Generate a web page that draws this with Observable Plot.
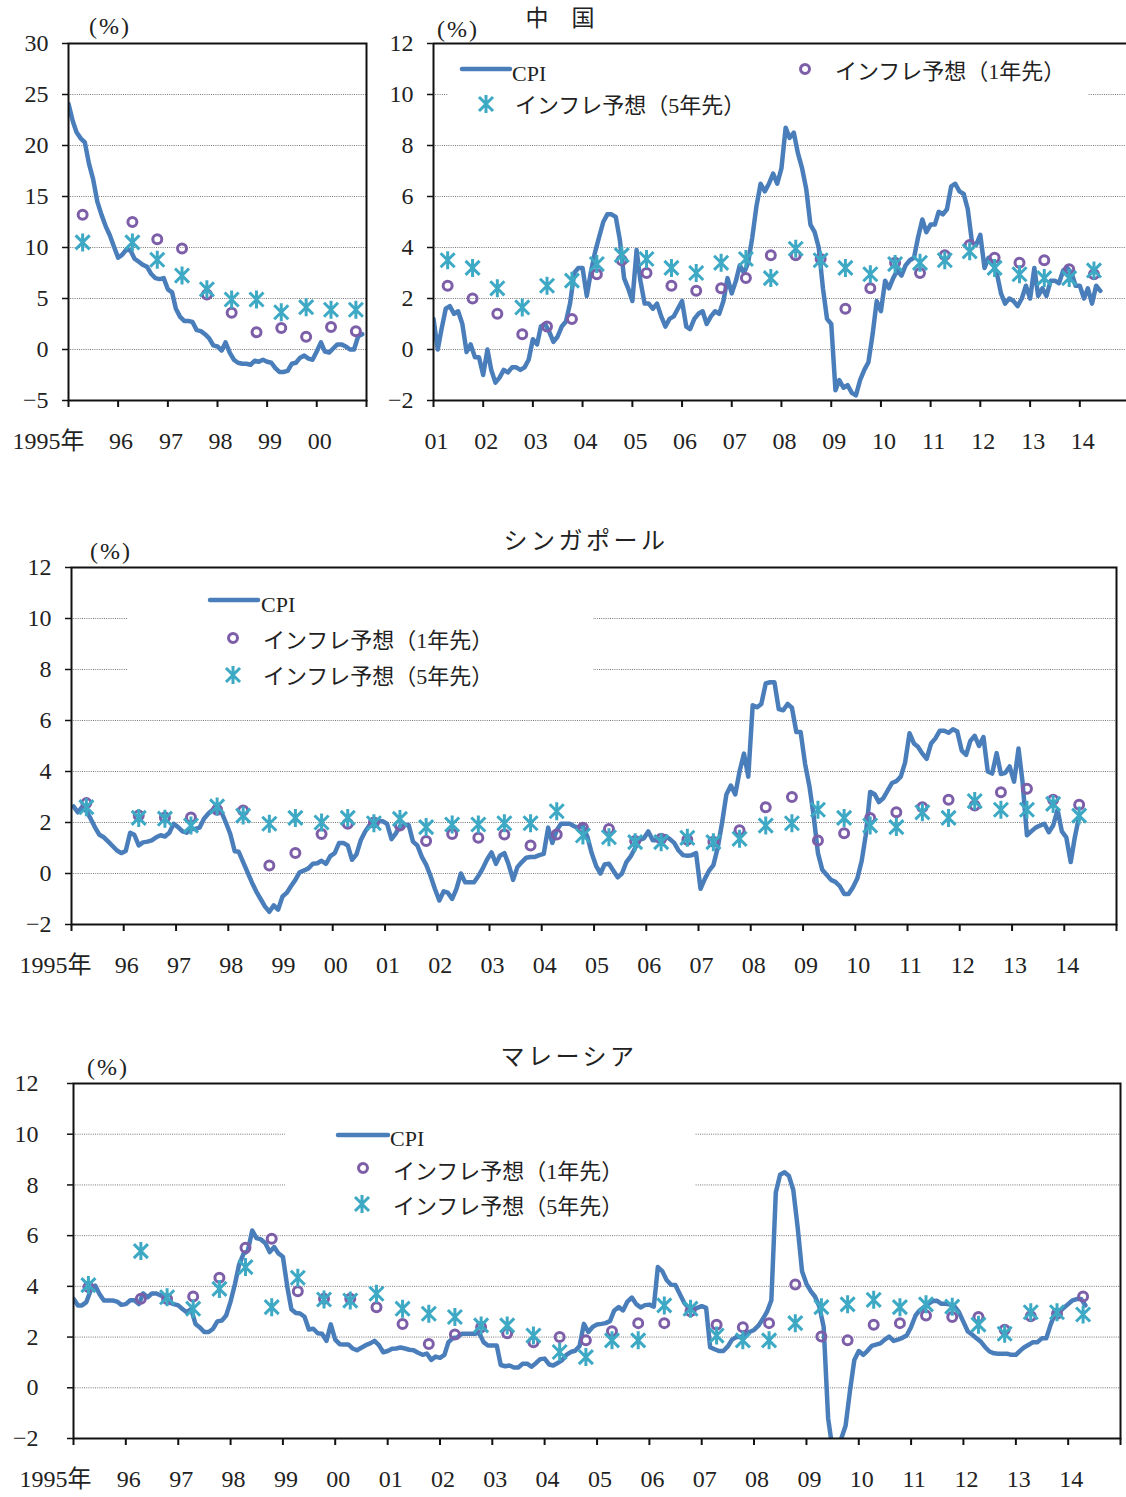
<!DOCTYPE html>
<html><head><meta charset="utf-8">
<script src="https://cdn.jsdelivr.net/npm/d3@7"></script>
<script src="https://cdn.jsdelivr.net/npm/@observablehq/plot@0.6"></script>
<style>
body{margin:0;background:#fff;}
#c{position:relative;width:1126px;height:1497px;overflow:hidden;font-family:"Liberation Serif","Noto Sans CJK JP",serif;color:#222;background:#fff;}
#c > *{position:absolute;}
.t{white-space:nowrap;line-height:1;}
</style></head><body><div id="c"></div>
<script>
// ---------------- DATA ----------------
// Survey months of the expectation series (1-year-ahead / 5-year-ahead)
const surveyDates = ["1995-04","1996-04","1996-10","1997-04","1997-10","1998-04","1998-10","1999-04","1999-10","2000-04","2000-10","2001-04","2001-10","2002-04","2002-10","2003-04","2003-10","2004-04","2004-10","2005-04","2005-10","2006-04","2006-10","2007-04","2007-10","2008-04","2008-10","2009-04","2009-10","2010-04","2010-10","2011-04","2011-10","2012-04","2012-10","2013-04","2013-10","2014-04"];

// China CPI (y/y %), monthly from Jan 1995
const chinaCpi = [
 24.1,22.4,21.3,20.7,20.3,18.2,16.7,14.5,13.2,12.1,11.2,10.1,
 9.0,9.3,9.8,9.7,8.9,8.6,8.3,8.1,7.4,7.0,6.9,7.0,
 5.9,5.6,4.0,3.2,2.8,2.8,2.7,1.9,1.8,1.5,1.1,0.4,
 0.3,-0.1,0.7,-0.3,-1.0,-1.3,-1.4,-1.4,-1.5,-1.1,-1.2,-1.0,
 -1.2,-1.3,-1.8,-2.2,-2.2,-2.1,-1.4,-1.3,-0.8,-0.6,-0.9,-1.0,
 -0.2,0.7,-0.2,-0.3,0.1,0.5,0.5,0.3,0.0,0.0,1.3,1.5,
 1.2,0.0,0.8,1.6,1.7,1.4,1.5,1.0,-0.1,0.2,-0.3,-0.3,
 -1.0,0.0,-0.8,-1.3,-1.1,-0.8,-0.9,-0.7,-0.7,-0.8,-0.7,-0.4,
 0.4,0.2,0.9,1.0,0.7,0.3,0.5,0.9,1.1,1.8,3.0,3.2,
 3.2,2.1,3.0,3.8,4.4,5.0,5.3,5.3,5.2,4.3,2.8,2.4,
 1.9,3.9,2.7,1.8,1.8,1.6,1.8,1.3,0.9,1.2,1.3,1.6,
 1.9,0.9,0.8,1.2,1.4,1.5,1.0,1.3,1.5,1.4,1.9,2.8,
 2.2,2.7,3.3,3.0,3.4,4.4,5.6,6.5,6.2,6.5,6.9,6.5,
 7.1,8.7,8.3,8.5,7.7,7.1,6.3,4.9,4.6,4.0,2.4,1.2,
 1.0,-1.6,-1.2,-1.5,-1.4,-1.7,-1.8,-1.2,-0.8,-0.5,0.6,1.9,
 1.5,2.7,2.4,2.8,3.1,2.9,3.3,3.5,3.6,4.4,5.1,4.6,
 4.9,4.9,5.4,5.3,5.5,6.4,6.5,6.2,6.1,5.5,4.2,4.1,
 4.5,3.2,3.6,3.4,3.0,2.2,1.8,2.0,1.9,1.7,2.0,2.5,
 2.0,3.2,2.1,2.4,2.1,2.7,2.7,2.6,3.1,3.2,3.0,2.5,
 2.5,2.0,2.4,1.8,2.5,2.3
];
const chinaExp1 = [13.2,12.5,10.8,9.9,5.4,3.6,1.7,2.1,1.25,2.2,1.8,2.5,2.0,1.4,0.6,0.9,1.2,2.95,3.5,3.0,2.5,2.3,2.4,2.8,3.7,3.7,3.55,1.6,2.4,3.4,3.0,3.7,4.1,3.6,3.4,3.5,3.15,2.95];
const chinaExp5 = [10.5,10.5,8.8,7.25,5.9,4.9,4.9,3.65,4.15,3.9,3.9,3.5,3.2,2.4,1.65,2.5,2.7,3.35,3.7,3.55,3.2,3.0,3.4,3.55,2.8,3.95,3.5,3.2,2.95,3.35,3.4,3.5,3.85,3.2,2.95,2.8,2.8,3.1];

// Singapore CPI (y/y %), monthly from Jan 1995
const singaporeCpi = [
 2.63,2.4,2.6,2.45,2.15,1.8,1.52,1.42,1.25,1.08,0.9,0.8,
 0.88,1.6,1.52,1.1,1.22,1.25,1.3,1.42,1.5,1.45,1.6,1.95,
 1.82,1.65,1.6,1.75,1.75,1.8,2.15,2.35,2.5,2.45,2.4,2.0,
 1.55,0.87,0.85,0.45,0.05,-0.35,-0.7,-1.0,-1.3,-1.5,-1.25,-1.42,
 -0.9,-0.75,-0.5,-0.25,0.05,0.12,0.2,0.38,0.4,0.5,0.38,0.68,
 0.8,1.2,1.2,1.1,0.54,0.75,1.3,1.65,1.9,2.0,2.05,2.05,
 1.95,1.35,1.55,1.85,1.9,1.9,1.25,1.1,0.65,0.35,-0.1,-0.6,
 -1.06,-0.7,-0.75,-1.0,-0.6,0.0,-0.34,-0.34,-0.34,-0.1,0.2,0.55,
 0.83,0.38,0.7,0.8,0.35,-0.25,0.25,0.45,0.62,0.65,0.65,0.72,
 0.77,1.8,1.2,1.7,1.95,1.95,1.95,1.85,1.8,1.85,1.45,0.8,
 0.3,0.0,0.35,0.38,0.12,-0.15,0.0,0.45,0.68,1.0,1.32,1.38,
 1.65,1.3,1.3,1.38,1.47,1.35,1.2,0.9,0.72,0.7,0.72,0.8,
 -0.6,-0.2,0.1,0.33,1.0,2.0,3.1,3.45,3.1,4.0,4.7,3.8,
 6.6,6.52,6.65,7.45,7.5,7.5,6.45,6.4,6.65,6.5,5.55,5.55,
 4.3,3.4,2.3,0.8,0.15,-0.05,-0.25,-0.33,-0.5,-0.8,-0.8,-0.55,
 -0.2,0.5,1.5,3.2,3.12,2.8,2.95,3.25,3.55,3.62,3.8,4.35,
 5.5,5.1,4.97,4.7,4.5,5.1,5.3,5.6,5.6,5.52,5.66,5.57,
 4.82,4.65,5.2,5.4,5.0,5.35,4.0,3.92,4.72,3.9,3.95,4.2,
 3.6,4.9,3.6,1.5,1.65,1.8,1.88,1.95,1.62,1.88,2.5,1.65,
 1.42,0.45,1.4,2.25
];
const singaporeExp1 = [2.76,2.27,2.2,2.2,2.5,2.47,0.31,0.8,1.55,1.95,2.0,1.88,1.27,1.55,1.4,1.53,1.1,1.53,1.79,1.75,1.27,1.36,1.32,1.25,1.7,2.6,3.0,1.29,1.58,2.18,2.4,2.6,2.89,2.67,3.19,3.32,2.89,2.7];
const singaporeExp5 = [2.6,2.18,2.15,1.88,2.63,2.27,1.95,2.18,2.0,2.18,1.97,2.14,1.82,1.92,1.92,1.97,1.97,2.44,1.49,1.42,1.23,1.23,1.4,1.23,1.36,1.88,1.97,2.5,2.18,1.88,1.82,2.4,2.18,2.84,2.5,2.5,2.73,2.27];

// Malaysia CPI (y/y %), monthly from Jan 1995
const malaysiaCpi = [
 3.51,3.25,3.25,3.38,3.85,4.03,3.7,3.44,3.44,3.44,3.4,3.27,
 3.3,3.45,3.45,3.3,3.72,3.57,3.72,3.72,3.64,3.6,3.36,3.3,
 3.25,3.1,2.98,3.1,2.52,2.38,2.2,2.2,2.33,2.62,2.65,2.85,
 3.4,4.1,4.85,5.28,5.4,6.2,5.9,5.85,5.7,5.35,5.55,5.3,
 5.17,3.97,3.1,2.95,2.93,2.8,2.3,2.33,2.15,2.13,1.85,2.5,
 1.9,1.72,1.71,1.71,1.55,1.48,1.58,1.68,1.75,1.85,1.68,1.4,
 1.45,1.54,1.55,1.59,1.55,1.5,1.48,1.38,1.3,1.35,1.1,1.23,
 1.18,1.3,1.8,1.96,1.98,2.13,2.13,2.13,2.13,2.17,1.8,1.67,
 1.67,1.67,0.9,0.85,0.88,0.8,0.8,0.95,0.95,0.83,0.97,1.13,
 1.15,0.92,0.88,0.98,1.08,1.3,1.41,1.46,1.65,2.52,2.2,2.4,
 2.5,2.52,2.55,2.63,3.05,3.18,3.05,3.4,3.56,3.3,3.17,3.26,
 3.28,3.2,4.76,4.6,4.25,4.06,4.05,3.7,3.35,3.15,3.08,3.15,
 3.22,3.15,1.6,1.52,1.45,1.45,1.62,1.9,2.0,2.0,2.1,2.2,
 2.28,2.45,2.7,3.0,3.45,7.7,8.4,8.5,8.35,7.8,6.3,4.6,
 4.1,3.8,3.6,3.2,2.4,-1.2,-2.4,-2.4,-2.0,-1.5,-0.1,1.1,
 1.45,1.3,1.45,1.65,1.7,1.75,1.9,2.02,1.85,1.9,1.97,2.06,
 2.4,2.85,3.05,3.18,3.31,3.42,3.43,3.31,3.31,3.28,3.2,2.98,
 2.6,2.22,2.1,1.95,1.82,1.6,1.43,1.36,1.34,1.34,1.34,1.3,
 1.3,1.47,1.6,1.7,1.8,1.8,1.95,1.95,2.5,2.92,3.0,3.15,
 3.3,3.45,3.5,3.5,3.25
];
const malaysiaExp1 = [3.97,3.51,3.5,3.6,4.34,5.52,5.88,3.81,3.51,3.51,3.18,2.52,1.73,2.1,2.39,2.15,1.8,2.0,1.87,2.23,2.55,2.55,3.02,2.49,2.39,2.55,4.07,2.02,1.87,2.49,2.55,2.85,2.79,2.79,2.29,2.82,2.92,3.6];
const malaysiaExp5 = [4.05,5.39,3.57,3.12,3.9,4.76,3.18,4.34,3.48,3.44,3.71,3.12,2.92,2.79,2.46,2.46,2.06,1.41,1.21,1.87,1.87,3.25,3.12,2.06,1.87,1.87,2.55,3.18,3.29,3.47,3.18,3.29,3.2,2.49,2.13,2.98,2.98,2.89];

const titles = {china: "中　国", singapore: "シンガポール", malaysia: "マレーシア"};
const legendLabels = ["CPI", "インフレ予想（1年先）", "インフレ予想（5年先）"];
const yTicksChinaEarly = [30,25,20,15,10,5,0,-5];
const yTicksStd = [12,10,8,6,4,2,0,-2];

// ---------------- HELPERS ----------------
const COL_CPI = "#4a7ebb", COL_E1 = "#7d5ea8", COL_E5 = "#3da9c4";
const FONT = '"Liberation Serif","Noto Sans CJK JP",serif';
const monthly = (vals, day) => vals.map((v, i) => ({date: new Date(Date.UTC(1995, i, day)), value: v}));
const survey = vals => vals.map((v, i) => ({date: new Date(Date.UTC(+surveyDates[i].slice(0,4), +surveyDates[i].slice(5,7)-1, 15)), value: v}));
const yearLabel = y => y === 1995 ? "1995年" : String(y % 100).padStart(2, "0");
const fmt = v => v < 0 ? "\u2212" + (-v) : String(v);
const U = (y) => new Date(Date.UTC(y, 0, 1));
const asterisk = {draw(ctx, size) {
  const r = Math.sqrt(size / Math.PI), d = r * 0.78;
  ctx.moveTo(0, -r); ctx.lineTo(0, r);
  ctx.moveTo(-d, -d); ctx.lineTo(d, d);
  ctx.moveTo(-d, d); ctx.lineTo(d, -d);
}};
const c = document.getElementById("c");

function panel(o) {
  const labs = o.labelYears.map(y => ({date: U(y), label: yearLabel(y)}));
  const frameMarks = o.openRight
    ? [Plot.ruleY([o.yDomain[1]], {stroke: "#111", strokeWidth: 2}),
       Plot.ruleY([o.yDomain[0]], {stroke: "#111", strokeWidth: 2}),
       Plot.ruleX([o.xDomain[0]], {stroke: "#111", strokeWidth: 2})]
    : [Plot.frame({stroke: "#111", strokeWidth: 2})];
  const svg = Plot.plot({
    width: o.width, height: o.height,
    marginLeft: o.mL, marginRight: o.mR, marginTop: o.mT, marginBottom: o.mB,
    x: {type: "utc", domain: o.xDomain},
    y: {domain: o.yDomain},
    style: {fontFamily: FONT, background: "transparent", color: "#222", overflow: "visible"},
    marks: [
      Plot.ruleY(o.yTicks.slice(1, -1), {stroke: "#777", strokeWidth: 1, strokeDasharray: "1,1.2"}),
      Plot.line(o.cpi, {x: "date", y: "value", stroke: COL_CPI, strokeWidth: 4.5, strokeLinejoin: "round", clip: true}),
      Plot.dot(o.exp1, {x: "date", y: "value", r: 4.5, stroke: COL_E1, strokeWidth: 3}),
      Plot.dot(o.exp5, {x: "date", y: "value", r: 9, symbol: asterisk, stroke: COL_E5, strokeWidth: 3}),
      ...frameMarks,
      Plot.axisX(o.tickYears.map(U), {tickSize: 7, tickFormat: () => "", stroke: "#111", strokeWidth: 2, label: null}),
      Plot.axisY(o.yTicks, {tickSize: 6, tickFormat: () => "", stroke: "#111", strokeWidth: 1.5, label: null}),
      Plot.text(labs.filter(d => d.label.length < 3), {x: "date", text: "label", frameAnchor: "bottom", dy: 41, dx: 3, fontSize: 24, lineAnchor: "middle", fill: "#222"}),
      Plot.text(labs.filter(d => d.label.length > 2), {x: "date", text: "label", frameAnchor: "bottom", dy: 41, dx: o.firstDx, fontSize: 24, lineAnchor: "middle", fill: "#222"}),
      Plot.text(o.yTicks, {y: d => d, text: fmt, frameAnchor: "left", dx: o.yDx, textAnchor: "end", fontSize: 24, lineAnchor: "middle", fill: "#222"})
    ]
  });
  svg.style.position = "absolute";
  svg.style.left = o.left + "px";
  svg.style.top = o.top + "px";
  c.appendChild(svg);
}

function add(html) { c.insertAdjacentHTML("beforeend", html); }
function text(str, cx, cy, size, extra = "", anchor = "center") {
  const tx = anchor === "center" ? "-50%" : "0";
  add(`<div class="t" style="left:${cx}px;top:${cy}px;transform:translate(${tx},-50%);font-size:${size}px;${extra}">${str}</div>`);
}
function box(x, y, w, h) { add(`<div style="left:${x}px;top:${y}px;width:${w}px;height:${h}px;background:#fff"></div>`); }
function legLine(x1, x2, y) {
  add(`<svg style="left:${x1 - 4}px;top:${y - 5}px" width="${x2 - x1 + 8}" height="10"><line x1="4" y1="5" x2="${x2 - x1 + 4}" y2="5" stroke="${COL_CPI}" stroke-width="4.5" stroke-linecap="round"/></svg>`);
}
function legCircle(x, y) {
  add(`<svg style="left:${x - 8}px;top:${y - 8}px" width="16" height="16"><circle cx="8" cy="8" r="4.5" fill="none" stroke="${COL_E1}" stroke-width="3"/></svg>`);
}
function legAst(x, y) {
  const r = 9, d = r * 0.78;
  add(`<svg style="left:${x - 12}px;top:${y - 12}px" width="24" height="24"><path d="M12,${12 - r}V${12 + r}M${12 - d},${12 - d}L${12 + d},${12 + d}M${12 - d},${12 + d}L${12 + d},${12 - d}" stroke="${COL_E5}" stroke-width="3" fill="none"/></svg>`);
}

// ---------------- PANELS ----------------
const chinaAll = monthly(chinaCpi, 1);
const chinaSurv1 = survey(chinaExp1), chinaSurv5 = survey(chinaExp5);
const split = U(2001);
const yrs = (a, b) => d3.range(a, b + 1);

// China 1995-2000
panel({left: 0, top: 0, width: 375, height: 460, mL: 68, mR: 9, mT: 43, mB: 60,
  xDomain: [U(1995), U(2001)], yDomain: [-5, 30], yTicks: yTicksChinaEarly,
  tickYears: yrs(1995, 2001), labelYears: yrs(1995, 2000), firstDx: -20, yDx: -20,
  cpi: chinaAll.filter(d => d.date < split),
  exp1: chinaSurv1.filter(d => d.date < split), exp5: chinaSurv5.filter(d => d.date < split)});

// China 2001-2014
panel({left: 380, top: 0, width: 746, height: 460, mL: 53, mR: 0, mT: 43, mB: 60, openRight: true,
  xDomain: [U(2001), new Date(Date.UTC(2014, 11, 10))], yDomain: [-2, 12], yTicks: yTicksStd,
  tickYears: yrs(2001, 2014), labelYears: yrs(2001, 2014), firstDx: 3, yDx: -20,
  cpi: chinaAll.filter(d => d.date >= split),
  exp1: chinaSurv1.filter(d => d.date >= split), exp5: chinaSurv5.filter(d => d.date >= split)});

// Singapore
panel({left: 0, top: 520, width: 1126, height: 470, mL: 71, mR: 10, mT: 47, mB: 66,
  xDomain: [U(1995), U(2015)], yDomain: [-2, 12], yTicks: yTicksStd,
  tickYears: yrs(1995, 2015), labelYears: yrs(1995, 2014), firstDx: -16, yDx: -20,
  cpi: monthly(singaporeCpi, 15), exp1: survey(singaporeExp1), exp5: survey(singaporeExp5)});

// Malaysia
panel({left: 0, top: 1030, width: 1126, height: 467, mL: 73, mR: 6, mT: 53, mB: 59,
  xDomain: [U(1995), U(2015)], yDomain: [-2, 12], yTicks: yTicksStd,
  tickYears: yrs(1995, 2015), labelYears: yrs(1995, 2014), firstDx: -18, yDx: -35,
  cpi: monthly(malaysiaCpi, 1), exp1: survey(malaysiaExp1), exp5: survey(malaysiaExp5)});

// ---------------- TITLES, UNITS, LEGENDS ----------------
const pctStyle = "font-family:'Liberation Serif',serif;letter-spacing:2px;";
text("(%)", 110, 26, 24, pctStyle);
text("(%)", 458, 29, 24, pctStyle);
text("(%)", 111, 551, 24, pctStyle);
text("(%)", 108, 1067, 24, pctStyle);

text(titles.china, 560, 18, 23);
text(titles.singapore, 586, 541, 24, "letter-spacing:3.5px;");
text(titles.malaysia, 569, 1057, 24, "letter-spacing:3.5px;");

// China legend
box(448, 45, 640, 72);
legLine(462, 510, 69); text(legendLabels[0], 512, 74, 22, "", "left");
legAst(486, 104); text(legendLabels[2], 515, 106, 22, "", "left");
legCircle(805, 69); text(legendLabels[1], 835, 72, 22, "", "left");

// Singapore legend
box(127, 573, 466, 130);
legLine(210, 258, 600); text(legendLabels[0], 261, 605, 22, "", "left");
legCircle(233, 638); text(legendLabels[1], 263, 641, 22, "", "left");
legAst(233, 675); text(legendLabels[2], 263, 677, 22, "", "left");

// Malaysia legend
box(285, 1090, 410, 130);
legLine(338, 388, 1135); text(legendLabels[0], 390, 1139, 22, "", "left");
legCircle(363, 1168); text(legendLabels[1], 393, 1172, 22, "", "left");
legAst(362, 1204); text(legendLabels[2], 393, 1207, 22, "", "left");
</script>
</body></html>
